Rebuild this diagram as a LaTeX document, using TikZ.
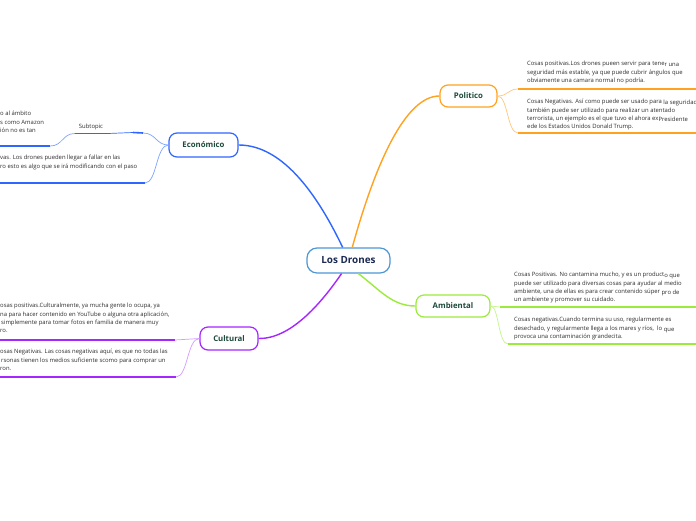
\documentclass[tikz,border=0pt]{standalone}
\usepackage{fontspec}
\setmainfont{Open Sans}
\definecolor{cblue}{HTML}{2F66FF}
\definecolor{cbluelight}{HTML}{7FA3FF}
\definecolor{corange}{HTML}{FFA21F}
\definecolor{corangelight}{HTML}{FFC77A}
\definecolor{cpurple}{HTML}{A526FF}
\definecolor{cpurplelight}{HTML}{D39BFF}
\definecolor{cgreen}{HTML}{9CEB3C}
\definecolor{cgreenlight}{HTML}{C6F58F}
\definecolor{ccenter}{HTML}{4E98D6}
\definecolor{cnavy}{HTML}{1B2A52}
\definecolor{topictext}{HTML}{1E4A3C}
\definecolor{bodytext}{HTML}{2E2E2E}
\newcommand\bodyfont{\fontsize{5.9}{8.4}\selectfont}
\newcommand\topicfont{\bfseries\fontsize{7.8}{9}\selectfont}
\newcommand\centerfont{\bfseries\fontsize{9.9}{11}\selectfont}
\newcommand\dropped[1]{\raisebox{-1.2pt}{#1}}
\begin{document}
\begin{tikzpicture}[x=1pt,y=-1pt,
  topic/.style={draw, rounded corners=8pt, line width=1.2pt, fill=white, inner sep=0pt, font=\topicfont, text=topictext},
  body/.style={font=\bodyfont, align=left, anchor=north west, inner sep=0pt, text=bodytext},
  mainlink/.style={line width=1.4pt},
  sublink/.style={line width=0.7pt},
  uline/.style={line width=1.6pt}]
\useasboundingbox[fill=white] (0,0) rectangle (696,520);

% topics
\node[topic, draw=ccenter, text=cnavy, font=\centerfont, minimum width=83pt, minimum height=25pt, rounded corners=10pt] (c) at (348.5,260.5) {Los Drones};
\node[topic, draw=cblue, minimum width=69pt, minimum height=24pt] (e) at (203.5,145) {Económico};
\node[topic, draw=corange, minimum width=57pt, minimum height=22pt] (p) at (468.5,96) {Politico};
\node[topic, draw=cgreen, minimum width=74pt, minimum height=22pt] (a) at (453,306) {Ambiental};
\node[topic, draw=cpurple, minimum width=58pt, minimum height=23pt] (k) at (229,338.5) {Cultural};

% main links
\draw[mainlink, cblue] (c.114) .. controls (320,200) and (285,145) .. (e.east);
\draw[mainlink, corange] (c.74) .. controls (375,165) and (405,96) .. (p.west);
\draw[mainlink, cpurple] (c.242) .. controls (320,305) and (290,339) .. (k.east);
\draw[mainlink, cgreen] (c.307) .. controls (380,290) and (392,306) .. (a.west);

% Economico children
\coordinate (es1) at (143,133);
\coordinate (es2) at (133,132.5);
\coordinate (es3) at (108,133.5);
\coordinate (es4) at (75,133.5);
\coordinate (es5) at (50,146);
\coordinate (es6) at (-4,146);
\coordinate (ef1) at (145,183);
\coordinate (ef2) at (-4,183);
\draw[sublink, cbluelight] (e.west) .. controls (156,145) and (156,133) .. (es1);
\draw[uline, cblue] (es1) -- (es2);
\draw[sublink, cblue] (es2) -- (es3);
\draw[uline, cblue] (es3) -- (es4);
\draw[sublink, cbluelight] (es4) .. controls (62,133.5) and (63,146) .. (es5);
\draw[uline, cblue] (es5) -- (es6);
\draw[sublink, cbluelight] (e.west) .. controls (156,145) and (157,183) .. (ef1);
\draw[uline, cblue] (ef1) -- (ef2);
\node[font=\bodyfont, text=bodytext, inner sep=0pt] (sub) at (91,127) {Subtopic};
\node[body] (et1) at (0,109.6) {\strut o al ámbito\\s como Amazon\\ión no es tan};
\node[body] (et2) at (0,153.6) {\strut vas. Los drones pueden llegar a fallar en las\\ro esto es algo que se irá modificando con el paso};

% Politico children
\coordinate (pu1) at (518,89);
\coordinate (pu1e) at (700,89);
\coordinate (pu2) at (518,133);
\coordinate (pu2e) at (700,133);
\draw[sublink, corangelight] (p.east) .. controls (508,96) and (508,89) .. (pu1);
\draw[uline, corange] (pu1) -- (pu1e);
\draw[sublink, corangelight] (p.east) .. controls (508,96) and (507,133) .. (pu2);
\draw[uline, corange] (pu2) -- (pu2e);
\node[body] (pt1) at (527,59.6) {\strut Cosas positivas.Los drones pueen servir para tene\dropped{r una}\\seguridad más estable, ya que puede cubrir ángulos que\\obviamente una camara normal no podría.};
\node[body] (pt2) at (527,97.6) {\strut Cosas Negativas. Así como puede ser usado para \dropped{la seguridad}\\también puede ser utilizado para realizar un atentado\\terrorista, un ejemplo es el que tuvo el ahora ex\dropped{Presidente}\\ede los Estados Unidos Donald Trump.};

% Ambiental children
\coordinate (au1) at (500,307);
\coordinate (au1e) at (700,307);
\coordinate (au2) at (508,344);
\coordinate (au2e) at (700,344);
\draw[sublink, cgreenlight] (a.east) .. controls (495,306) and (495,307) .. (au1);
\draw[uline, cgreen] (au1) -- (au1e);
\draw[sublink, cgreenlight] (a.east) .. controls (499,306) and (498,344) .. (au2);
\draw[uline, cgreen] (au2) -- (au2e);
\node[body] (at1) at (514,270.6) {\strut Cosas Positivas. No cantamina mucho, y es un product\dropped{o que}\\puede ser utilizado para diversas cosas para ayudar al medio\\ambiente, una de ellas es para crear contenido súper \dropped{pro de}\\un ambiente y promover su cuidado.};
\node[body] (at2) at (514,315.6) {\strut Cosas negativas.Cuando termina su uso, regularmente es\\desechado, y regularmente llega a los mares y ríos,\ \ lo \dropped{que}\\provoca una contaminación grandecita.};

% Cultural children
\coordinate (ku1) at (175,340);
\coordinate (ku1e) at (-4,340);
\coordinate (ku2) at (176,377);
\coordinate (ku2e) at (-4,377);
\draw[sublink, cpurplelight] (k.west) -- (ku1);
\draw[uline, cpurple] (ku1) -- (ku1e);
\draw[sublink, cpurplelight] (k.west) .. controls (187,338.5) and (188,377) .. (ku2);
\draw[uline, cpurple] (ku2) -- (ku2e);
\node[body] (kt1) at (0,301.6) {\strut osas positivas.Culturalmente, ya mucha gente lo ocupa, ya\\na para hacer contenido en YouTube o alguna otra aplicación,\\\kern1pt simplemente para tomar fotos en familia de manera muy\\ro.};
\node[body] (kt2) at (0,347.6) {\strut osas Negativas. Las cosas negativas aquí, es que no todas las\\\kern1pt rsonas tienen los medios suficiente scomo para comprar un\\ron.};
\end{tikzpicture}
\end{document}
